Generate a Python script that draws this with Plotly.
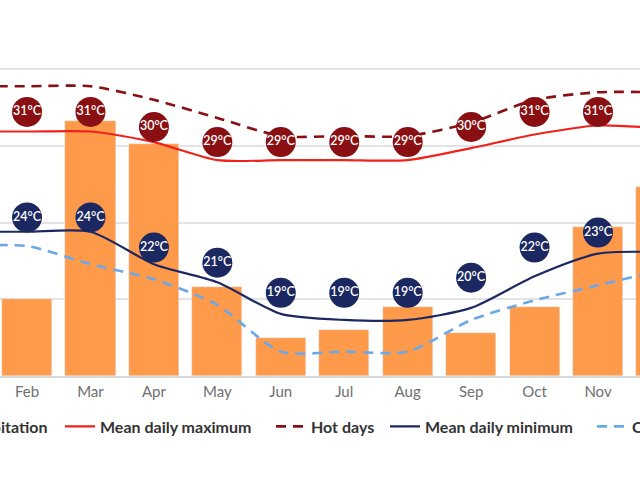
import plotly.graph_objects as go

# monthly climate values (Jan/Dec bubbles lie outside the view)
months = ['Jan', 'Feb', 'Mar', 'Apr', 'May', 'Jun', 'Jul', 'Aug', 'Sep', 'Oct', 'Nov', 'Dec']
precip = [120, 50, 166, 151, 58, 25, 30, 45, 28, 45, 97, 123]
mean_max = [29.7, 29.7, 29.7, 29.0, 27.8, 27.8, 27.8, 27.8, 28.6, 29.5, 30.1, 29.9]
hot_days = [32.7, 32.7, 32.7, 31.8, 30.6, 29.4, 29.4, 29.4, 30.3, 31.8, 32.3, 32.3]
mean_min = [23.05, 23.05, 23.05, 20.9, 19.7, 17.6, 17.2, 17.2, 18.0, 20.1, 21.6, 21.7]
cold_nights = [22.1, 22.1, 20.9, 19.9, 18.2, 15.1, 15.1, 15.1, 17.2, 18.5, 19.5, 20.5]
max_labels = [None, 31, 31, 30, 29, 29, 29, 29, 30, 31, 31, None]
min_labels = [None, 24, 24, 22, 21, 19, 19, 19, 20, 22, 23, None]

FONT = 'Lato'
ORANGE = '#fe9a4a'
RED = '#f0231c'
DARKRED = '#8a0f12'
NAVY = '#1c2861'
LIGHTBLUE = '#6aa8ea'
SMOOTH = 0.7

fig = go.Figure()

fig.add_trace(go.Bar(x=months, y=precip, name='Precipitation', marker_color=ORANGE,
                     width=0.79, legend='legend'))

fig.add_trace(go.Scatter(x=months, y=mean_max, name='Mean daily maximum', mode='lines',
                         line=dict(color=RED, width=2.2, shape='spline', smoothing=SMOOTH),
                         yaxis='y2', legend='legend2'))
fig.add_trace(go.Scatter(x=months, y=hot_days, name='Hot days', mode='lines',
                         line=dict(color=DARKRED, width=2.6, shape='spline', smoothing=SMOOTH,
                                   dash='10px,7px'),
                         yaxis='y2', legend='legend3'))
fig.add_trace(go.Scatter(x=months, y=mean_min, name='Mean daily minimum', mode='lines',
                         line=dict(color=NAVY, width=2.2, shape='spline', smoothing=SMOOTH),
                         yaxis='y2', legend='legend4'))
fig.add_trace(go.Scatter(x=months, y=cold_nights, name='Cold nights', mode='lines',
                         line=dict(color=LIGHTBLUE, width=2.6, shape='spline', smoothing=SMOOTH,
                                   dash='10px,7px'),
                         yaxis='y2', legend='legend5'))

# temperature bubbles
for vals, col in [(max_labels, DARKRED), (min_labels, NAVY)]:
    fig.add_trace(go.Scatter(x=months, y=vals, mode='markers+text', yaxis='y2',
                             text=['' if v is None else f'{v}°C' for v in vals],
                             textposition='middle center',
                             textfont=dict(family=FONT, size=12.5, color='white', weight=600),
                             marker=dict(size=30, color=col), showlegend=False,
                             hoverinfo='skip'))

leg = dict(orientation='h', yanchor='middle', y=-0.1596, bgcolor='rgba(0,0,0,0)',
           font=dict(family=FONT, size=16, color='#333333', weight='bold'))

fig.update_layout(
    width=640, height=480,
    margin=dict(l=0, r=0, t=60, b=103.5, autoexpand=False),
    plot_bgcolor='white', paper_bgcolor='white',
    bargap=0,
    xaxis=dict(range=[0.574, 10.662], showgrid=False, showline=True, linecolor='#d9d9d9',
               linewidth=2, ticks='', ticklabelstandoff=1,
               tickfont=dict(family=FONT, size=15, color='#707070')),
    yaxis=dict(range=[0, 206.05], dtick=50, showgrid=True, gridcolor='#e3e3e3', gridwidth=1.5,
               zeroline=False, showticklabels=False),
    yaxis2=dict(range=[13.483, 34.444], overlaying='y', side='right', showgrid=False,
                zeroline=False, showticklabels=False),
    legend=dict(leg, x=53 / 640, xanchor='right'),
    legend2=dict(leg, x=60 / 640, xanchor='left'),
    legend3=dict(leg, x=271 / 640, xanchor='left'),
    legend4=dict(leg, x=385 / 640, xanchor='left'),
    legend5=dict(leg, x=592 / 640, xanchor='left'),
    showlegend=True,
)

fig.write_html("out.html", config={'displayModeBar': False},
               post_script="document.body.style.margin = '0';")
